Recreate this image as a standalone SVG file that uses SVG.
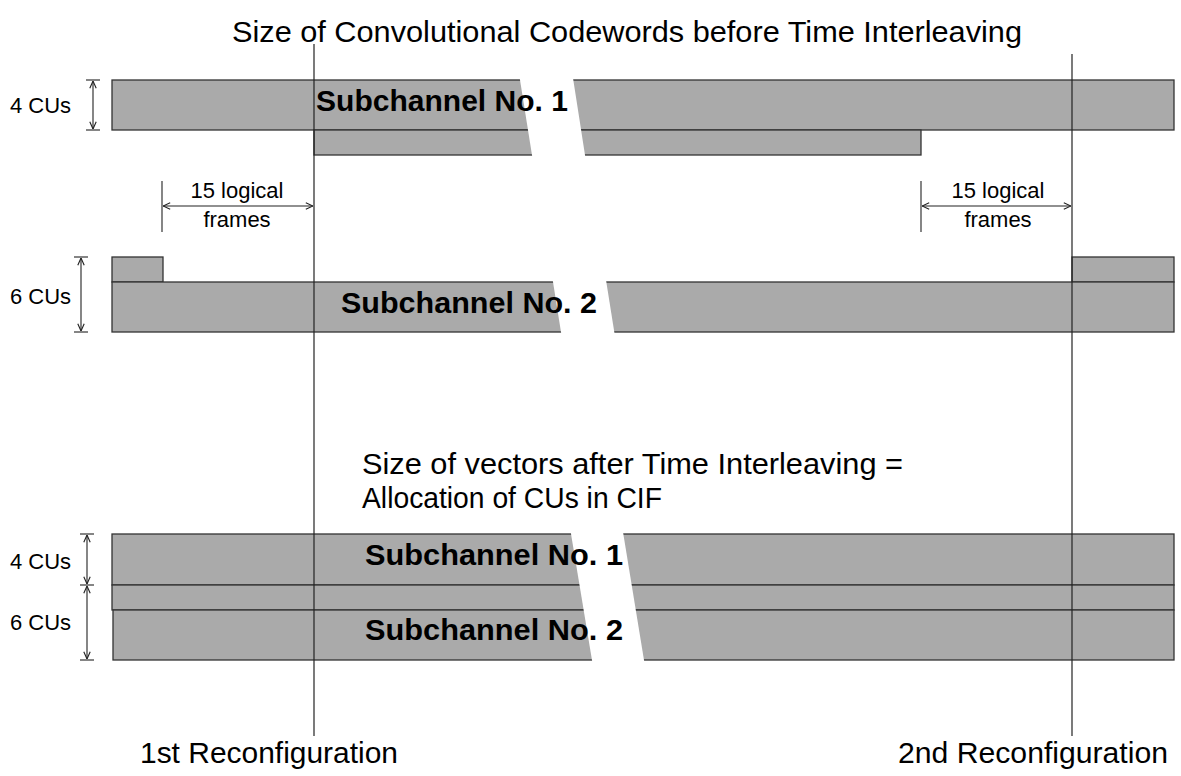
<svg xmlns="http://www.w3.org/2000/svg" width="1181" height="776" viewBox="0 0 1181 776">
<defs>
<style>
.bar{fill:#aaaaaa;stroke:#333333;stroke-width:1.3}
.gap{fill:#ffffff;stroke:none}
.t{font-family:"Liberation Sans",Arial,sans-serif;fill:#000}
.big{font-size:30px}
.sm{font-size:22px}
.bold{font-family:"Liberation Sans",Arial,sans-serif;font-weight:bold;font-size:29px;fill:#000}
.ln{stroke:#222;stroke-width:1.2;fill:none}
.dim{stroke:#222;stroke-width:1.1;fill:none}
.arr{stroke:#222;stroke-width:1.1;fill:none;marker-start:url(#ah);marker-end:url(#ah)}
</style>
<marker id="ah" viewBox="0 0 10 10" refX="10" refY="5" markerWidth="8" markerHeight="8" markerUnits="userSpaceOnUse" orient="auto-start-reverse">
<path d="M1,1 L10,5 L1,9" fill="none" stroke="#222" stroke-width="1.4"/>
</marker>
</defs>
<rect width="1181" height="776" fill="#ffffff"/>

<text class="t big" x="232" y="42" textLength="790" lengthAdjust="spacingAndGlyphs">Size of Convolutional Codewords before Time Interleaving</text>

<g id="subchannel1-before">
<rect class="bar" x="112" y="80" width="1062" height="50"/>
<rect class="bar" x="314" y="130" width="607" height="25"/>
<polygon class="gap" points="519.7,78 573,78 585.3,157 532.3,157"/>
<text class="bold" x="316" y="111" textLength="252" lengthAdjust="spacingAndGlyphs">Subchannel No. 1</text>
</g>

<g id="subchannel2-before">
<rect class="bar" x="112" y="257" width="51" height="25"/>
<rect class="bar" x="1072" y="257" width="102" height="25"/>
<rect class="bar" x="112" y="282" width="1062" height="50"/>
<polygon class="gap" points="552.7,280 606,280 614.6,334 561.3,334"/>
<text class="bold" x="341" y="313" textLength="256" lengthAdjust="spacingAndGlyphs">Subchannel No. 2</text>
</g>

<text class="t big" x="362" y="474" textLength="541" lengthAdjust="spacingAndGlyphs">Size of vectors after Time Interleaving =</text>
<text class="t big" x="362" y="508" textLength="300" lengthAdjust="spacingAndGlyphs">Allocation of CUs in CIF</text>

<g id="cif-allocation">
<rect class="bar" x="112" y="534" width="1062" height="51"/>
<rect class="bar" x="112" y="585" width="1062" height="25"/>
<rect class="bar" x="113" y="610" width="1061" height="50"/>
<polygon class="gap" points="570.7,532 623,532 644.3,662 592.3,662"/>
<text class="bold" x="365" y="565" textLength="258" lengthAdjust="spacingAndGlyphs">Subchannel No. 1</text>
<text class="bold" x="365" y="640" textLength="258" lengthAdjust="spacingAndGlyphs">Subchannel No. 2</text>
</g>

<g id="reconfig1">
<line class="ln" x1="314" y1="44" x2="314" y2="736"/>
<text class="t big" x="140" y="763" textLength="258" lengthAdjust="spacingAndGlyphs">1st Reconfiguration</text>
</g>
<g id="reconfig2">
<line class="ln" x1="1072" y1="54" x2="1072" y2="736"/>
<text class="t big" x="898" y="763" textLength="270" lengthAdjust="spacingAndGlyphs">2nd Reconfiguration</text>
</g>

<g id="connectors">
<line class="dim" x1="86" y1="80" x2="100" y2="80"/>
<line class="dim" x1="86" y1="130" x2="100" y2="130"/>
<line class="arr" x1="93" y1="81" x2="93" y2="129"/>
<line class="dim" x1="74" y1="257" x2="88" y2="257"/>
<line class="dim" x1="74" y1="332" x2="88" y2="332"/>
<line class="arr" x1="81" y1="258" x2="81" y2="331"/>
<line class="dim" x1="80" y1="534" x2="94" y2="534"/>
<line class="dim" x1="80" y1="585" x2="94" y2="585"/>
<line class="dim" x1="80" y1="660" x2="94" y2="660"/>
<line class="arr" x1="87" y1="535" x2="87" y2="584"/>
<line class="arr" x1="87" y1="586" x2="87" y2="659"/>
<line class="dim" x1="162" y1="181" x2="162" y2="232"/>
<line class="arr" x1="163" y1="206" x2="313" y2="206"/>
<line class="dim" x1="921" y1="181" x2="921" y2="232"/>
<line class="arr" x1="922" y1="206" x2="1071" y2="206"/>
</g>

<g id="labels">
<text class="t sm" x="10" y="113">4 CUs</text>
<text class="t sm" x="10" y="304">6 CUs</text>
<text class="t sm" x="10" y="569">4 CUs</text>
<text class="t sm" x="10" y="630">6 CUs</text>
<text class="t sm" x="237" y="198" text-anchor="middle">15 logical</text>
<text class="t sm" x="237" y="227" text-anchor="middle">frames</text>
<text class="t sm" x="998" y="198" text-anchor="middle">15 logical</text>
<text class="t sm" x="998" y="227" text-anchor="middle">frames</text>
</g>
</svg>
